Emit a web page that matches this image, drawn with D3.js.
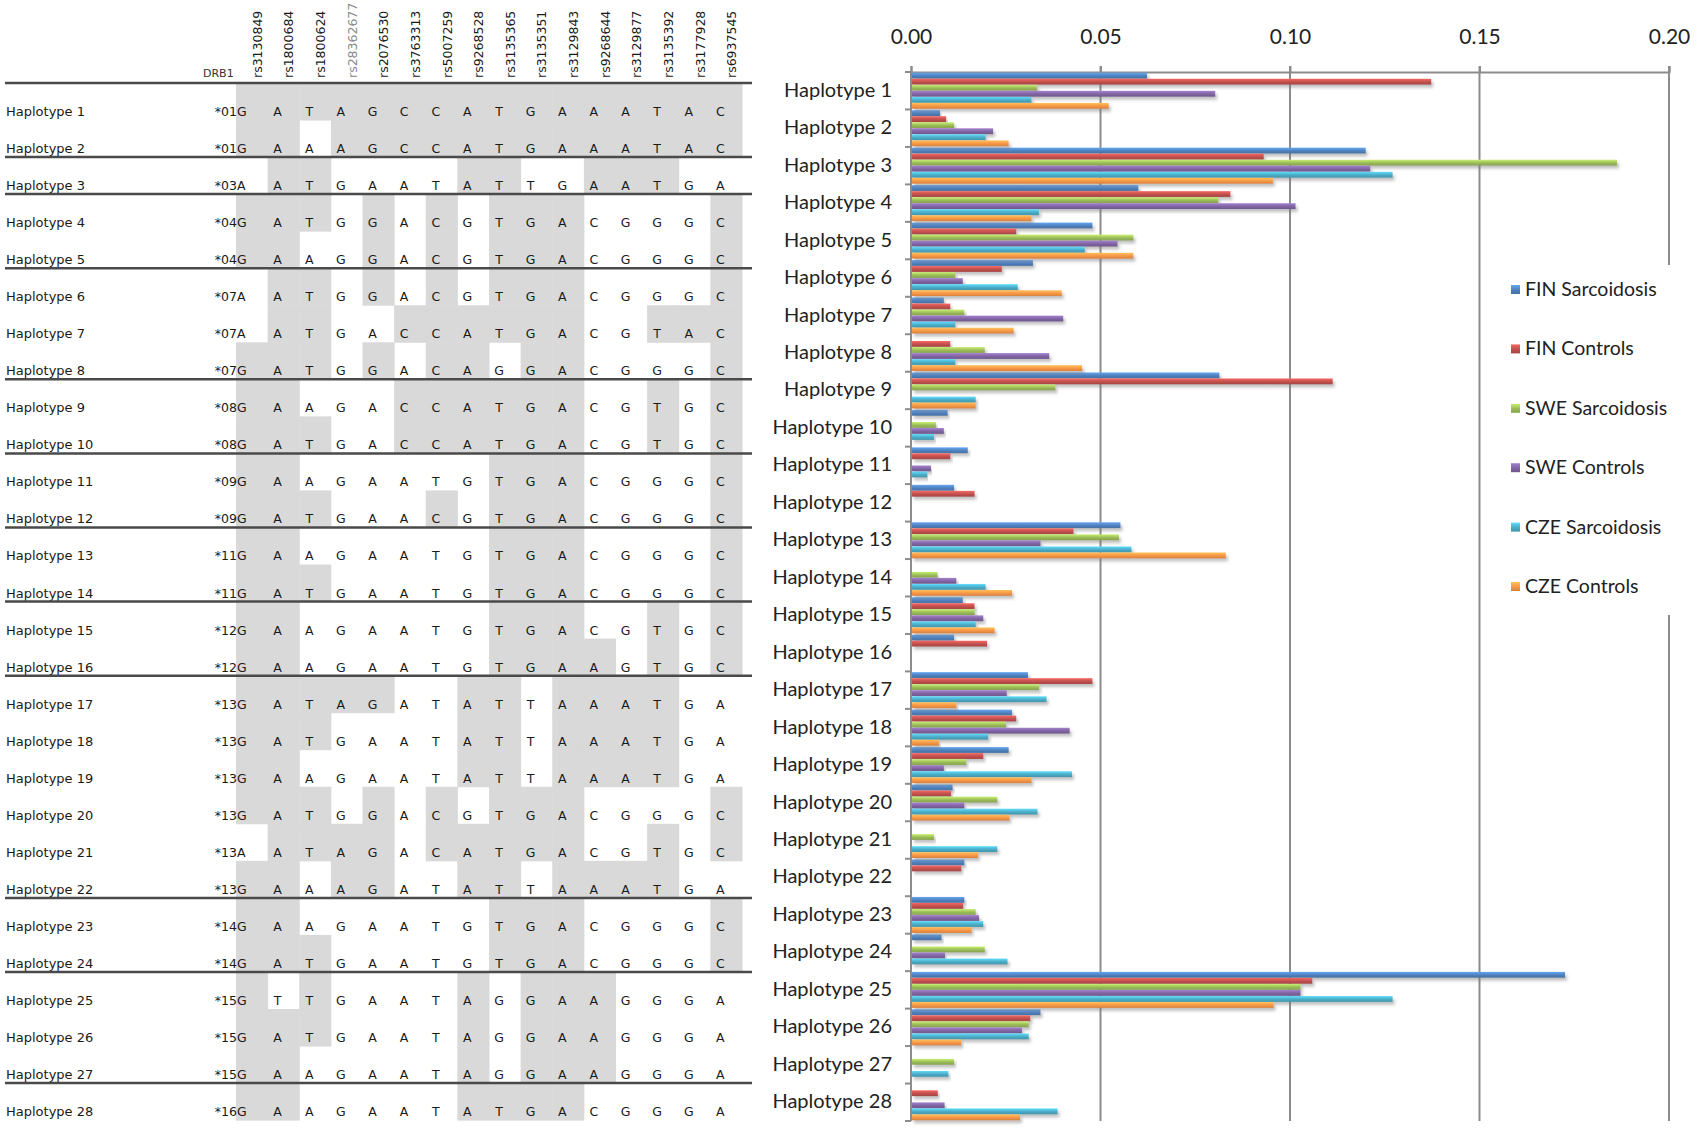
<!DOCTYPE html>
<html>
<head>
<meta charset="utf-8">
<script src="https://cdn.jsdelivr.net/npm/d3@7"></script>
<style>
body { margin: 0; background: #fff; }
</style>
</head>
<body>
<div id="chart"></div>
<script>
// haplotype table
var haplotypes = d3.range(1, 29).map(function(i){ return "Haplotype " + i; });
var snps = ["rs3130849", "rs1800684", "rs1800624", "rs28362677", "rs2076530", "rs3763313",
            "rs5007259", "rs9268528", "rs3135365", "rs3135351", "rs3129843", "rs9268644",
            "rs3129877", "rs3135392", "rs3177928", "rs6937545"];
var drb1 = ["*01", "*01", "*03", "*04", "*04", "*07", "*07", "*07", "*08", "*08", "*09", "*09", "*11", "*11",
            "*12", "*12", "*13", "*13", "*13", "*13", "*13", "*13", "*14", "*14", "*15", "*15", "*15", "*16"];
var alleles = [
  "GATAGCCATGAAATAC", "GAAAGCCATGAAATAC", "AATGAATATTGAATGA", "GATGGACGTGACGGGC",
  "GAAGGACGTGACGGGC", "AATGGACGTGACGGGC", "AATGACCATGACGTAC", "GATGGACAGGACGGGC",
  "GAAGACCATGACGTGC", "GATGACCATGACGTGC", "GAAGAATGTGACGGGC", "GATGAACGTGACGGGC",
  "GAAGAATGTGACGGGC", "GATGAATGTGACGGGC", "GAAGAATGTGACGTGC", "GAAGAATGTGAAGTGC",
  "GATAGATATTAAATGA", "GATGAATATTAAATGA", "GAAGAATATTAAATGA", "GATGGACGTGACGGGC",
  "AATAGACATGACGTGC", "GAAAGATATTAAATGA", "GAAGAATGTGACGGGC", "GATGAATGTGACGGGC",
  "GTTGAATAGGAAGGGA", "GATGAATAGGAAGGGA", "GAAGAATAGGAAGGGA", "GAAGAATATGACGGGA"
];

// frequencies
var seriesNames = ["FIN Sarcoidosis", "FIN Controls", "SWE Sarcoidosis", "SWE Controls", "CZE Sarcoidosis", "CZE Controls"];
var seriesColors = ["#4f81bd", "#c0504d", "#9bbb59", "#8064a2", "#4bacc6", "#f79646"];
var finSarc = [0.062, 0.0074, 0.1197, 0.0597, 0.0476, 0.0319, 0.0084, 0, 0.0811, 0.0094, 0.0147, 0.0111, 0.055, 0,
               0.0134, 0.0111, 0.0306, 0.0264, 0.0255, 0.0107, 0, 0.0138, 0.0138, 0.0078, 0.1723, 0.0339, 0, 0];
var finCtrl = [0.137, 0.009, 0.0928, 0.084, 0.0275, 0.0237, 0.0101, 0.0101, 0.111, 0, 0.0101, 0.0165, 0.0426, 0,
               0.0165, 0.0198, 0.0476, 0.0275, 0.0188, 0.0103, 0, 0.013, 0.0135, 0, 0.1056, 0.0312, 0, 0.0068];
var sweSarc = [0.033, 0.0111, 0.186, 0.0808, 0.0584, 0.0114, 0.0138, 0.0192, 0.0378, 0.0063, 0, 0, 0.0546, 0.0067,
               0.0165, 0, 0.0335, 0.0248, 0.0143, 0.0225, 0.0058, 0, 0.0168, 0.0192, 0.1025, 0.0308, 0.0111, 0];
var sweCtrl = [0.080, 0.0214, 0.1209, 0.1012, 0.0542, 0.0134, 0.0399, 0.0362, 0, 0.0084, 0.005, 0, 0.0339, 0.0117,
               0.0188, 0, 0.025, 0.0416, 0.0084, 0.0138, 0, 0, 0.0177, 0.0087, 0.1025, 0.029, 0, 0.0086];
var czeSarc = [0.0315, 0.0194, 0.1268, 0.0335, 0.0456, 0.0279, 0.0114, 0.0114, 0.0168, 0.0058, 0.004, 0, 0.0579, 0.0194,
               0.0168, 0, 0.0355, 0.0201, 0.0422, 0.0331, 0.0225, 0, 0.0188, 0.0252, 0.1268, 0.0308, 0.0096, 0.0384];
var czeCtrl = [0.0519, 0.0255, 0.0952, 0.0315, 0.0584, 0.0395, 0.0268, 0.0449, 0.0168, 0, 0, 0, 0.0828, 0.0264,
               0.0218, 0, 0.0117, 0.0071, 0.0315, 0.0257, 0.0174, 0, 0.0157, 0, 0.0954, 0.013, 0, 0.0285];
var xTicks = [0, 0.05, 0.10, 0.15, 0.20];

function init(){

var w = 1703;
var h = 1141;
var allSeries = [finSarc, finCtrl, sweSarc, sweCtrl, czeSarc, czeCtrl];

var svg = d3.select("#chart")
            .append("svg")
            .attr("width", w)
            .attr("height", h);

var defs = svg.append("defs");
seriesColors.forEach(function(c, i){
    var g = defs.append("linearGradient")
        .attr("id", "grad" + i)
        .attr("x1", 0).attr("y1", 0).attr("x2", 0).attr("y2", 1);
    g.append("stop").attr("offset", "0%").attr("stop-color", d3.color(c).brighter(0.7));
    g.append("stop").attr("offset", "55%").attr("stop-color", c);
    g.append("stop").attr("offset", "100%").attr("stop-color", d3.color(c).darker(0.4));
});
defs.append("filter").attr("id", "shadow")
    .attr("x", "-5%").attr("y", "-50%").attr("width", "110%").attr("height", "250%")
    .append("feDropShadow")
    .attr("dx", 2).attr("dy", 3).attr("stdDeviation", 1.4)
    .attr("flood-color", "#777").attr("flood-opacity", 0.45);

// ---------- left: haplotype table ----------
var col = d3.scaleBand().domain(d3.range(snps.length)).range([236, 742]);
var row = d3.scaleBand().domain(haplotypes).range([83, 83 + 28 * 37.04]);

var cells = [];
alleles.forEach(function(s, r){
    s.split("").forEach(function(a, c){
        cells.push({row: haplotypes[r], col: c, allele: a, same: a == alleles[0][c]});
    });
});

var table = svg.append("g").style("font-family", "DejaVu Sans").style("font-size", "12.5px");

table.selectAll("rect.cell")
    .data(cells.filter(function(d){ return d.same; }))
    .enter()
    .append("rect")
    .attr("class", "cell")
    .attr("x", function(d){ return col(d.col); })
    .attr("y", function(d){ return row(d.row); })
    .attr("width", col.bandwidth() + 0.5)
    .attr("height", row.bandwidth() + 0.5)
    .attr("fill", "#d9d9d9");

table.selectAll("text.allele")
    .data(cells)
    .enter()
    .append("text")
    .attr("class", "allele")
    .text(function(d){ return d.allele; })
    .attr("x", function(d){ return d.col == 0 ? col(d.col) + 1 : col(d.col) + 10; })
    .attr("y", function(d){ return row(d.row) + 33; })
    .attr("text-anchor", function(d){ return d.col == 0 ? "start" : "middle"; })
    .attr("fill", "#1a1a1a");

table.selectAll("text.hap")
    .data(haplotypes)
    .enter()
    .append("text")
    .attr("class", "hap")
    .text(function(d){ return d; })
    .attr("x", 6)
    .attr("y", function(d){ return row(d) + 33; })
    .style("font-size", "13px")
    .attr("fill", "#1a1a1a");

table.selectAll("text.drb")
    .data(drb1)
    .enter()
    .append("text")
    .attr("class", "drb")
    .text(function(d){ return d; })
    .attr("x", col(0) + 1)
    .attr("y", function(d, i){ return row(haplotypes[i]) + 33; })
    .attr("text-anchor", "end")
    .attr("fill", "#1a1a1a");

table.append("text")
    .text("DRB1")
    .attr("x", 203)
    .attr("y", 77)
    .style("font-size", "11px")
    .attr("fill", "#333");

table.selectAll("text.snp")
    .data(snps)
    .enter()
    .append("text")
    .attr("class", "snp")
    .text(function(d){ return d; })
    .attr("transform", function(d, i){
        return "translate(" + (col(i) + col.bandwidth() / 2 + 10) + ",78) rotate(-90)";
    })
    .style("font-size", "12.5px")
    .attr("fill", function(d, i){ return i == 3 ? "#8a8a8a" : "#1a1a1a"; });

// separator lines: header and between DRB1 groups
var lineYs = [row.range()[0]];
drb1.forEach(function(d, i){
    if(i < drb1.length - 1 && drb1[i + 1] != d){
        lineYs.push(row(haplotypes[i]) + row.bandwidth());
    }
});
table.selectAll("line.sep")
    .data(lineYs)
    .enter()
    .append("line")
    .attr("class", "sep")
    .attr("x1", 5).attr("x2", 752)
    .attr("y1", function(d){ return d; })
    .attr("y2", function(d){ return d; })
    .attr("stroke", "#4a4a4a")
    .attr("stroke-width", 2.5);

// ---------- right: bar chart ----------
var x = d3.scaleLinear().domain([0, 0.2]).range([911, 1669]);
var y = d3.scaleBand().domain(haplotypes).range([72, 1121]);
var ySub = d3.scaleBand().domain(seriesNames).range([0, y.bandwidth()]).paddingOuter(0.12).paddingInner(0.04);

var chart = svg.append("g").style("font-family", "Lato");

chart.selectAll("line.grid")
    .data(xTicks.slice(1))
    .enter()
    .append("line")
    .attr("class", "grid")
    .attr("x1", function(d){ return x(d); })
    .attr("x2", function(d){ return x(d); })
    .attr("y1", 66)
    .attr("y2", 1121)
    .attr("stroke", "#8c8c8c")
    .attr("stroke-width", 2);

var xAxis = d3.axisTop(x).tickValues(xTicks).tickFormat(d3.format(".2f")).tickSize(6).tickPadding(22);
var gx = chart.append("g").attr("transform", "translate(0,72)").call(xAxis);
gx.select(".domain").attr("stroke", "#8c8c8c").attr("stroke-width", 2);
gx.selectAll(".tick line").attr("stroke", "#8c8c8c").attr("stroke-width", 2);
gx.selectAll(".tick text").style("font-size", "21px").style("font-family", "Lato").attr("fill", "#222");

chart.append("line")
    .attr("x1", x(0)).attr("x2", x(0))
    .attr("y1", 72).attr("y2", 1121)
    .attr("stroke", "#8c8c8c").attr("stroke-width", 2);

chart.selectAll("line.ytick")
    .data(d3.range(haplotypes.length + 1))
    .enter()
    .append("line")
    .attr("class", "ytick")
    .attr("x1", x(0) - 6).attr("x2", x(0))
    .attr("y1", function(d){ return y.range()[0] + d * y.step(); })
    .attr("y2", function(d){ return y.range()[0] + d * y.step(); })
    .attr("stroke", "#8c8c8c").attr("stroke-width", 2);

var bars = [];
allSeries.forEach(function(vals, s){
    vals.forEach(function(v, i){
        bars.push({hap: haplotypes[i], series: seriesNames[s], s: s, value: v});
    });
});

chart.selectAll("rect.bar")
    .data(bars.filter(function(d){ return d.value > 0; }))
    .enter()
    .append("rect")
    .attr("class", "bar")
    .attr("x", x(0) + 1)
    .attr("y", function(d){ return y(d.hap) + ySub(d.series); })
    .attr("width", function(d){ return x(d.value) - x(0); })
    .attr("height", ySub.bandwidth())
    .attr("fill", function(d){ return "url(#grad" + d.s + ")"; })
    .attr("filter", "url(#shadow)");

chart.selectAll("text.ylab")
    .data(haplotypes)
    .enter()
    .append("text")
    .attr("class", "ylab")
    .text(function(d){ return d; })
    .attr("x", 892)
    .attr("y", function(d){ return y(d) + y.bandwidth() / 2 + 6; })
    .attr("text-anchor", "end")
    .style("font-size", "20px")
    .attr("fill", "#222");

// legend
var legend = chart.append("g");
legend.append("rect")
    .attr("x", 1497).attr("y", 265)
    .attr("width", 206).attr("height", 350)
    .attr("fill", "#fff");

var item = legend.selectAll("g.item")
    .data(seriesNames)
    .enter()
    .append("g")
    .attr("class", "item")
    .attr("transform", function(d, i){ return "translate(1511," + (289 + i * 59.4) + ")"; });

item.append("rect")
    .attr("x", 0).attr("y", -4)
    .attr("width", 9).attr("height", 9)
    .attr("fill", function(d, i){ return "url(#grad" + i + ")"; });

item.append("text")
    .text(function(d){ return d; })
    .attr("x", 14)
    .attr("y", 7)
    .style("font-size", "19.5px")
    .attr("fill", "#222");
}

window.onload = init;
</script>
</body>
</html>
